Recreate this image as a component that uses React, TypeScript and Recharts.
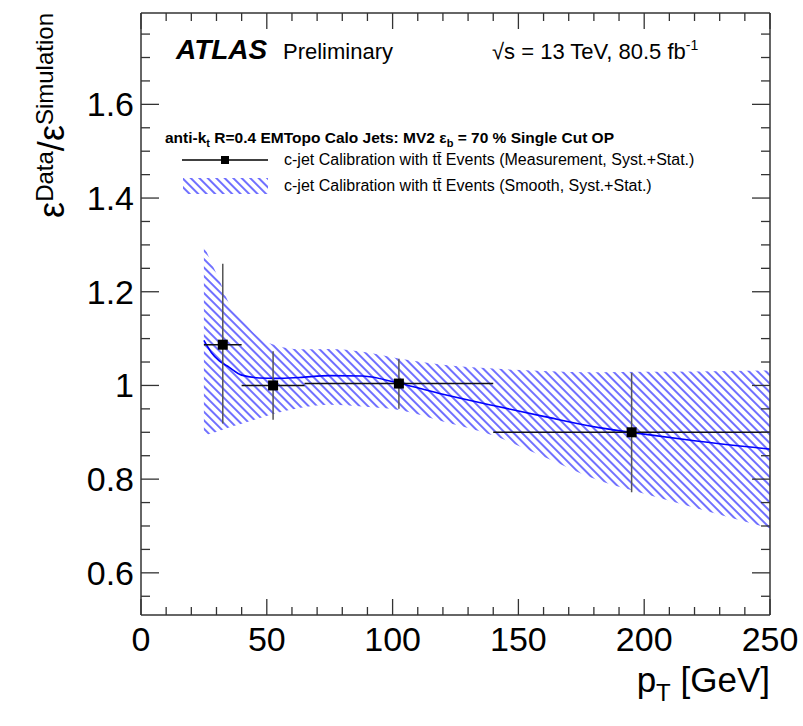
import React from 'react';
import { ComposedChart, Area, Line, Scatter, ErrorBar, XAxis, YAxis } from 'recharts';

// smooth calibration curve (pT in GeV) and its syst.+stat. band
const smoothPt = [25, 28, 31, 35, 40, 47, 54, 63, 75, 88, 103, 120, 140, 160, 182, 200, 220, 250];
const smoothCentral = [1.096, 1.07, 1.053, 1.039, 1.022, 1.016, 1.015, 1.017, 1.021, 1.02, 1.004, 0.981, 0.957, 0.934, 0.91, 0.896, 0.882, 0.864];
const bandLow = [0.893, 0.898, 0.903, 0.91, 0.918, 0.93, 0.941, 0.952, 0.959, 0.955, 0.947, 0.923, 0.893, 0.848, 0.797, 0.769, 0.739, 0.695];
const bandHigh = [1.298, 1.262, 1.227, 1.175, 1.142, 1.102, 1.085, 1.077, 1.078, 1.072, 1.057, 1.044, 1.036, 1.031, 1.028, 1.029, 1.03, 1.032];

// measured scale factors
const measPt = [32.5, 52.5, 102.5, 195];
const measHalfWidth = [7.5, 12.5, 37.5, 55];
const measSF = [1.087, 1.0, 1.004, 0.9];
const measErrDown = [0.168, 0.073, 0.054, 0.128];
const measErrUp = [0.173, 0.073, 0.053, 0.127];

const xMajorTicks = [0, 50, 100, 150, 200, 250];
const xTicks = [0, 10, 20, 30, 40, 50, 60, 70, 80, 90, 100, 110, 120, 130, 140, 150, 160, 170, 180, 190, 200, 210, 220, 230, 240, 250];
const yMajorTicks = [0.6, 0.8, 1, 1.2, 1.4, 1.6];
const yTicks = [0.55, 0.6, 0.65, 0.7, 0.75, 0.8, 0.85, 0.9, 0.95, 1, 1.05, 1.1, 1.15, 1.2, 1.25, 1.3, 1.35, 1.4, 1.45, 1.5, 1.55, 1.6, 1.65, 1.7, 1.75];

const smoothData = smoothPt.map((pt, i) => ({
  pt,
  central: smoothCentral[i],
  band: [bandLow[i], bandHigh[i]],
}));

const measData = measPt.map((pt, i) => ({
  pt,
  sf: measSF[i],
  xErr: [measHalfWidth[i], measHalfWidth[i]],
  yErr: [measErrDown[i], measErrUp[i]],
}));

const FONT = '"Liberation Sans", Arial, Helvetica, sans-serif';
const AXIS = '#333';
const HATCH = '#3a3aff';

const isMajor = (list: number[], v: number) => list.some(m => Math.abs(m - v) < 1e-6);

const BottomTick = ({ x, y, payload }: any) => {
  const major = isMajor(xMajorTicks, payload.value);
  return (
    <g>
      <line x1={x} x2={x} y1={y} y2={y - (major ? 16 : 8)} stroke={AXIS} strokeWidth={1.3} />
      {major && (
        <text x={x} y={y + 36} textAnchor="middle" fontSize={34} fontFamily={FONT} fill="#000">
          {payload.value}
        </text>
      )}
    </g>
  );
};

const TopTick = ({ x, y, payload }: any) => {
  const major = isMajor(xMajorTicks, payload.value);
  return <line x1={x} x2={x} y1={y} y2={y + (major ? 16 : 8)} stroke={AXIS} strokeWidth={1.3} />;
};

const LeftTick = ({ x, y, payload }: any) => {
  const major = isMajor(yMajorTicks, payload.value);
  return (
    <g>
      <line x1={x} x2={x + (major ? 18 : 9)} y1={y} y2={y} stroke={AXIS} strokeWidth={1.3} />
      {major && (
        <text x={x - 7} y={y + 12} textAnchor="end" fontSize={34} fontFamily={FONT} fill="#000">
          {String(Math.round(payload.value * 10) / 10)}
        </text>
      )}
    </g>
  );
};

const RightTick = ({ x, y, payload }: any) => {
  const major = isMajor(yMajorTicks, payload.value);
  return <line x1={x} x2={x - (major ? 18 : 9)} y1={y} y2={y} stroke={AXIS} strokeWidth={1.3} />;
};

const SquareMarker = ({ cx, cy }: any) => <rect x={cx - 5} y={cy - 5} width={10} height={10} fill="#000" />;

const HatchDef = ({ id }: { id: string }) => (
  <defs>
    <pattern id={id} patternUnits="userSpaceOnUse" width={6} height={6} patternTransform="rotate(-45)">
      <line x1={3} y1={0} x2={3} y2={6} stroke={HATCH} strokeWidth={1.45} />
    </pattern>
  </defs>
);

export default function App() {
  return (
    <div style={{ position: 'absolute', left: 0, top: 0, width: 803, height: 726, background: '#fff' }}>
      <ComposedChart width={803} height={726} data={smoothData} margin={{ top: 12, right: 32, bottom: 0, left: 0 }}>
        <HatchDef id="hatch" />
        <XAxis
          type="number"
          dataKey="pt"
          domain={[0, 250]}
          ticks={xTicks}
          interval={0}
          allowDataOverflow
          tick={<BottomTick />}
          tickLine={false}
          tickSize={0}
          tickMargin={0}
          height={111}
          axisLine={{ stroke: AXIS, strokeWidth: 1.5 }}
        />
        <XAxis
          xAxisId="top"
          orientation="top"
          type="number"
          dataKey="pt"
          domain={[0, 250]}
          ticks={xTicks}
          interval={0}
          allowDataOverflow
          tick={<TopTick />}
          tickLine={false}
          tickSize={0}
          tickMargin={0}
          height={1}
          axisLine={{ stroke: AXIS, strokeWidth: 1.5 }}
        />
        <YAxis
          type="number"
          domain={[0.51, 1.795]}
          ticks={yTicks}
          interval={0}
          allowDataOverflow
          tick={<LeftTick />}
          tickLine={false}
          tickSize={0}
          tickMargin={0}
          width={141}
          axisLine={{ stroke: AXIS, strokeWidth: 1.5 }}
        />
        <YAxis
          yAxisId="right"
          orientation="right"
          type="number"
          domain={[0.51, 1.795]}
          ticks={yTicks}
          interval={0}
          allowDataOverflow
          tick={<RightTick />}
          tickLine={false}
          tickSize={0}
          tickMargin={0}
          width={1}
          axisLine={{ stroke: AXIS, strokeWidth: 1.5 }}
        />
        <Area
          dataKey="band"
          type="monotone"
          fill="url(#hatch)"
          fillOpacity={1}
          stroke="none"
          isAnimationActive={false}
        />
        {/* invisible series so the mirrored top/right frame axes get drawn */}
        <Line
          xAxisId="top"
          yAxisId="right"
          dataKey="central"
          stroke="transparent"
          dot={false}
          activeDot={false}
          isAnimationActive={false}
        />
        <Line
          dataKey="central"
          type="monotone"
          stroke="#0000ff"
          strokeWidth={1.6}
          dot={false}
          isAnimationActive={false}
        />
        <Scatter data={measData} dataKey="sf" shape={<SquareMarker />} isAnimationActive={false}>
          <ErrorBar dataKey="xErr" direction="x" width={0} stroke="#111" strokeWidth={1.5} />
          <ErrorBar dataKey="yErr" direction="y" width={0} stroke="#555" strokeWidth={1.5} />
        </Scatter>
      </ComposedChart>

      <svg width={803} height={726} style={{ position: 'absolute', left: 0, top: 0, pointerEvents: 'none' }} fontFamily={FONT}>
        <HatchDef id="hatchLegend" />
        <text x={176} y={59} fontSize={28} fontWeight="bold" fontStyle="italic">ATLAS</text>
        <text x={283} y={59} fontSize={22}>Preliminary</text>
        <text x={492} y={59} fontSize={22}>
          √s = 13 TeV, 80.5 fb<tspan fontSize={14} dy={-9}>-1</tspan>
        </text>

        <text x={165} y={143} fontSize={15.5} fontWeight="bold">
          anti-k<tspan fontSize={11} dy={4}>t</tspan>
          <tspan dy={-4}> R=0.4 EMTopo Calo Jets: MV2 ε</tspan>
          <tspan fontSize={11} dy={4}>b</tspan>
          <tspan dy={-4}> = 70 % Single Cut OP</tspan>
        </text>

        <line x1={182} x2={268} y1={160} y2={160} stroke="#000" strokeWidth={1.3} />
        <rect x={221} y={156} width={8} height={8} fill="#000" />
        <text x={284} y={165} fontSize={16}>c-jet Calibration with tt̄ Events (Measurement, Syst.+Stat.)</text>

        <rect x={183} y={178} width={85} height={16} fill="url(#hatchLegend)" />
        <text x={284} y={191} fontSize={16}>c-jet Calibration with tt̄ Events (Smooth, Syst.+Stat.)</text>

        <text x={770} y={692} fontSize={35} textAnchor="end">
          p<tspan fontSize={24} dy={9}>T</tspan>
          <tspan dy={-9}> [GeV]</tspan>
        </text>

        <text transform="translate(64,13) rotate(-90)" fontSize={36} textAnchor="end">
          ε<tspan fontSize={24} dy={-11}>Data</tspan>
          <tspan fontSize={36} dy={11}>/ε</tspan>
          <tspan fontSize={24} dy={-11}>Simulation</tspan>
        </text>
      </svg>
    </div>
  );
}
